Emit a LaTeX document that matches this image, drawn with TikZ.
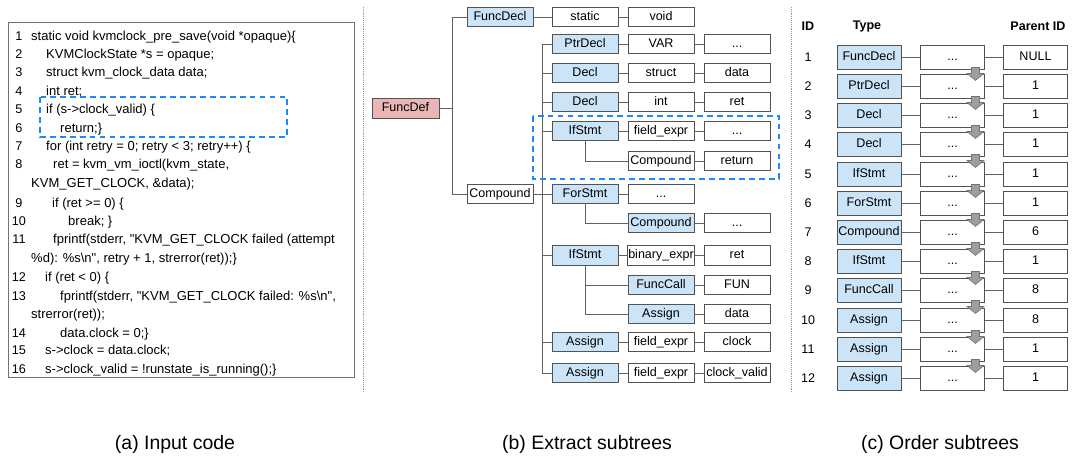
\documentclass[tikz,border=0pt]{standalone}
\usepackage{fontspec}
\setmainfont{Liberation Sans}
\newfontfamily\codefont{Liberation Sans}
\definecolor{astblue}{RGB}{204,228,247}
\definecolor{astpink}{RGB}{233,181,183}
\definecolor{hiliteblue}{RGB}{30,136,255}
\colorlet{edgegrey}{black!68}
\colorlet{linkgrey}{black!62}
\colorlet{arrowgrey}{black!38}
\tikzset{tree/box/.style={draw=edgegrey, line width=0.8pt, minimum width=1.98cm, minimum height=0.58cm, inner sep=1pt, text height=7.6pt, text depth=2.2pt, font=\fontsize{10.7}{12}\selectfont},
  tree/blue/.style={tree/box, fill=astblue},
  tree/white/.style={tree/box, fill=white},
  tree/root/.style={tree/box, fill=astpink, minimum width=2.01cm, minimum height=0.6cm},
  tree/link/.style={linkgrey, line width=0.8pt},
  order/blue/.style={tree/box, fill=astblue, minimum width=1.92cm, minimum height=0.72cm},
  order/white/.style={tree/box, fill=white, minimum width=1.92cm, minimum height=0.72cm},
  order/head/.style={inner sep=0pt, font=\bfseries\fontsize{10.7}{12}\selectfont},
  order/id/.style={inner sep=0pt, font=\fontsize{10.7}{12}\selectfont},
  order/arrow/.style={fill=arrowgrey, draw=black!55, line width=0.5pt},
  src/line/.style={anchor=base west, inner sep=0pt, font=\codefont\fontsize{11.1}{13}\selectfont},
  src/num/.style={anchor=base, inner sep=0pt, font=\codefont\fontsize{10.8}{13}\selectfont},
  hilite/.style={hiliteblue, line width=1.6pt, dash pattern=on 5pt off 3.5pt},
  caption/.style={inner sep=0pt, font=\fontsize{16.6}{19}\selectfont}}
\begin{document}
\begin{tikzpicture}[x=0.03cm, y=-0.03cm]
  \useasboundingbox (0,0) rectangle (1080,458);
\draw[black!55, line width=0.8pt] (8,22) rectangle (354,377);
\draw[black!40, densely dotted, line width=0.6pt] (363,7) -- (363,393);
\draw[black!40, densely dotted, line width=0.6pt] (791,7) -- (791,393);
\node[src/num] (n1) at (19,40.5) {1};
\node[src/num] (n2) at (19,58.5) {2};
\node[src/num] (n3) at (19,76.5) {3};
\node[src/num] (n4) at (19,95.5) {4};
\node[src/num] (n5) at (19,113.5) {5};
\node[src/num] (n6) at (19,132.5) {6};
\node[src/num] (n7) at (19,150.5) {7};
\node[src/num] (n8) at (19,168.5) {8};
\node[src/num] (n9) at (19,207.5) {9};
\node[src/num] (n10) at (19,225.5) {10};
\node[src/num] (n11) at (19,243.5) {11};
\node[src/num] (n12) at (19,281.5) {12};
\node[src/num] (n13) at (19,300.5) {13};
\node[src/num] (n14) at (19,337.5) {14};
\node[src/num] (n15) at (19,354.5) {15};
\node[src/num] (n16) at (19,373.5) {16};
\node[src/line] (c1) at (31,40.5) {static void kvmclock\_pre\_save(void *opaque)\{};
\node[src/line] (c2) at (46,58.5) {KVMClockState *s = opaque;};
\node[src/line] (c3) at (46,76.5) {struct kvm\_clock\_data data;};
\node[src/line] (c4) at (46,95.5) {int ret;};
\node[src/line] (c5) at (46,113.5) {if (s->clock\_valid) \{};
\node[src/line] (c6) at (60,132.5) {return;\}};
\node[src/line] (c7) at (46,150.5) {for (int retry = 0; retry < 3; retry++) \{};
\node[src/line] (c8) at (53,168.5) {ret = kvm\_vm\_ioctl(kvm\_state,};
\node[src/line] (c8b) at (31,187.5) {KVM\_GET\_CLOCK, \&data);};
\node[src/line] (c9) at (52,207.5) {if (ret >= 0) \{};
\node[src/line] (c10) at (68,225.5) {break; \}};
\node[src/line] (c11) at (53,243.5) {fprintf(stderr, "KVM\_GET\_CLOCK failed (attempt};
\node[src/line] (c11b) at (31,262.5) {\%d): \%s\textbackslash n", retry + 1, strerror(ret));\}};
\node[src/line] (c12) at (45,281.5) {if (ret < 0) \{};
\node[src/line] (c13) at (60,300.5) {fprintf(stderr, "KVM\_GET\_CLOCK failed: \%s\textbackslash n",};
\node[src/line] (c13b) at (31,318.5) {strerror(ret));};
\node[src/line] (c14) at (60,337.5) {data.clock = 0;\}};
\node[src/line] (c15) at (45,354.5) {s->clock = data.clock;};
\node[src/line] (c16) at (45,373.5) {s->clock\_valid = !runstate\_is\_running();\}};
\draw[hilite] (40,97) rectangle (287,137);
\node[tree/root] (fdef) at (405.5,108) {FuncDef};
\node[tree/blue] (fdecl) at (500,17) {FuncDecl};
\node[tree/white] (fstatic) at (585,17) {static};
\node[tree/white] (fvoid) at (661,17) {void};
\node[tree/white] (body) at (500,194) {Compound};
\node[tree/blue] (ptr) at (585,44) {PtrDecl};
\node[tree/white] (ptrvar) at (661,44) {VAR};
\node[tree/white] (ptrdots) at (737,44) {...};
\node[tree/blue] (decla) at (585,73) {Decl};
\node[tree/white] (declatype) at (661,73) {struct};
\node[tree/white] (declaname) at (737,73) {data};
\node[tree/blue] (declb) at (585,102) {Decl};
\node[tree/white] (declbtype) at (661,102) {int};
\node[tree/white] (declbname) at (737,102) {ret};
\node[tree/blue] (ifa) at (585,131) {IfStmt};
\node[tree/white] (ifacond) at (661,131) {field\_expr};
\node[tree/white] (ifadots) at (737,131) {...};
\node[tree/white] (ifabody) at (661,161) {Compound};
\node[tree/white] (ifaret) at (737,161) {return};
\node[tree/blue] (forst) at (585,194) {ForStmt};
\node[tree/white] (fordots) at (661,194) {...};
\node[tree/blue] (forbody) at (661,223) {Compound};
\node[tree/white] (forbodydots) at (737,223) {...};
\node[tree/blue] (ifb) at (585,255.5) {IfStmt};
\node[tree/white] (ifbcond) at (661,255.5) {binary\_expr};
\node[tree/white] (ifbret) at (737,255.5) {ret};
\node[tree/blue] (ifbcall) at (661,285) {FuncCall};
\node[tree/white] (ifbfun) at (737,285) {FUN};
\node[tree/blue] (ifbasg) at (661,314) {Assign};
\node[tree/white] (ifbdata) at (737,314) {data};
\node[tree/blue] (asga) at (585,342) {Assign};
\node[tree/white] (asgafield) at (661,342) {field\_expr};
\node[tree/white] (asgaclock) at (737,342) {clock};
\node[tree/blue] (asgb) at (585,373) {Assign};
\node[tree/white] (asgbfield) at (661,373) {field\_expr};
\node[tree/white] (asgbvalid) at (737,373) {clock\_valid};
\coordinate (fdefjoin) at (452,108);
\coordinate (bodyjoin) at (542,194);
\draw[tree/link] (fdef) -- (fdefjoin);
\draw[tree/link] (fdecl.west) -- (fdecl.west -| fdefjoin) -- (body.west -| fdefjoin) -- (body.west);
\draw[tree/link] (body) -- (forst);
\draw[tree/link] (ptr.west -| bodyjoin) -- (asgb.west -| bodyjoin);
\draw[tree/link] (ptr.west -| bodyjoin) -- (ptr.west);
\draw[tree/link] (decla.west -| bodyjoin) -- (decla.west);
\draw[tree/link] (declb.west -| bodyjoin) -- (declb.west);
\draw[tree/link] (ifa.west -| bodyjoin) -- (ifa.west);
\draw[tree/link] (ifb.west -| bodyjoin) -- (ifb.west);
\draw[tree/link] (asga.west -| bodyjoin) -- (asga.west);
\draw[tree/link] (asgb.west -| bodyjoin) -- (asgb.west);
\draw[tree/link] (fdecl) -- (fstatic) -- (fvoid);
\draw[tree/link] (ptr) -- (ptrvar) -- (ptrdots);
\draw[tree/link] (decla) -- (declatype) -- (declaname);
\draw[tree/link] (declb) -- (declbtype) -- (declbname);
\draw[tree/link] (ifa) -- (ifacond) -- (ifadots);
\draw[tree/link] (ifa.south) |- (ifabody.west);
\draw[tree/link] (ifabody) -- (ifaret);
\draw[tree/link] (forst) -- (fordots);
\draw[tree/link] (forst.south) |- (forbody.west);
\draw[tree/link] (forbody) -- (forbodydots);
\draw[tree/link] (ifb) -- (ifbcond) -- (ifbret);
\draw[tree/link] (ifb.south) |- (ifbasg.west);
\draw[tree/link] (ifb.south |- ifbcall.west) -- (ifbcall.west);
\draw[tree/link] (ifbcall) -- (ifbfun);
\draw[tree/link] (ifbasg) -- (ifbdata);
\draw[tree/link] (asga) -- (asgafield) -- (asgaclock);
\draw[tree/link] (asgb) -- (asgbfield) -- (asgbvalid);
\draw[hilite] (533,116) rectangle (779,179);
\node[order/head] (hid) at (808,26) {ID};
\node[order/head] (htype) at (867,26) {Type};
\node[order/head] (hparent) at (1038,26) {Parent ID};
\node[order/id] (i1) at (808,57) {1};
\node[order/blue] (t1) at (869,57) {FuncDecl};
\node[order/white] (m1) at (952.5,57) {...};
\node[order/white] (p1) at (1035.5,57) {NULL};
\node[order/id] (i2) at (808,86) {2};
\node[order/blue] (t2) at (869,86) {PtrDecl};
\node[order/white] (m2) at (952.5,86) {...};
\node[order/white] (p2) at (1035.5,86) {1};
\node[order/id] (i3) at (808,115) {3};
\node[order/blue] (t3) at (869,115) {Decl};
\node[order/white] (m3) at (952.5,115) {...};
\node[order/white] (p3) at (1035.5,115) {1};
\node[order/id] (i4) at (808,144) {4};
\node[order/blue] (t4) at (869,144) {Decl};
\node[order/white] (m4) at (952.5,144) {...};
\node[order/white] (p4) at (1035.5,144) {1};
\node[order/id] (i5) at (808,174) {5};
\node[order/blue] (t5) at (869,174) {IfStmt};
\node[order/white] (m5) at (952.5,174) {...};
\node[order/white] (p5) at (1035.5,174) {1};
\node[order/id] (i6) at (808,203) {6};
\node[order/blue] (t6) at (869,203) {ForStmt};
\node[order/white] (m6) at (952.5,203) {...};
\node[order/white] (p6) at (1035.5,203) {1};
\node[order/id] (i7) at (808,232) {7};
\node[order/blue] (t7) at (869,232) {Compound};
\node[order/white] (m7) at (952.5,232) {...};
\node[order/white] (p7) at (1035.5,232) {6};
\node[order/id] (i8) at (808,261) {8};
\node[order/blue] (t8) at (869,261) {IfStmt};
\node[order/white] (m8) at (952.5,261) {...};
\node[order/white] (p8) at (1035.5,261) {1};
\node[order/id] (i9) at (808,290) {9};
\node[order/blue] (t9) at (869,290) {FuncCall};
\node[order/white] (m9) at (952.5,290) {...};
\node[order/white] (p9) at (1035.5,290) {8};
\node[order/id] (i10) at (808,320) {10};
\node[order/blue] (t10) at (869,320) {Assign};
\node[order/white] (m10) at (952.5,320) {...};
\node[order/white] (p10) at (1035.5,320) {8};
\node[order/id] (i11) at (808,349) {11};
\node[order/blue] (t11) at (869,349) {Assign};
\node[order/white] (m11) at (952.5,349) {...};
\node[order/white] (p11) at (1035.5,349) {1};
\node[order/id] (i12) at (808,378) {12};
\node[order/blue] (t12) at (869,378) {Assign};
\node[order/white] (m12) at (952.5,378) {...};
\node[order/white] (p12) at (1035.5,378) {1};
\draw[tree/link] (t1) -- (m1) -- (p1);
\draw[tree/link] (t2) -- (m2) -- (p2);
\draw[tree/link] (t3) -- (m3) -- (p3);
\draw[tree/link] (t4) -- (m4) -- (p4);
\draw[tree/link] (t5) -- (m5) -- (p5);
\draw[tree/link] (t6) -- (m6) -- (p6);
\draw[tree/link] (t7) -- (m7) -- (p7);
\draw[tree/link] (t8) -- (m8) -- (p8);
\draw[tree/link] (t9) -- (m9) -- (p9);
\draw[tree/link] (t10) -- (m10) -- (p10);
\draw[tree/link] (t11) -- (m11) -- (p11);
\draw[tree/link] (t12) -- (m12) -- (p12);
\draw[order/arrow] ([shift={(-13.5,-2)}]m1.south east) -- ++(8,0) -- ++(0,6) -- ++(4.5,0) -- ++(-8.5,7) -- ++(-8.5,-7) -- ++(4.5,0) -- cycle;
\draw[order/arrow] ([shift={(-13.5,-2)}]m2.south east) -- ++(8,0) -- ++(0,6) -- ++(4.5,0) -- ++(-8.5,7) -- ++(-8.5,-7) -- ++(4.5,0) -- cycle;
\draw[order/arrow] ([shift={(-13.5,-2)}]m3.south east) -- ++(8,0) -- ++(0,6) -- ++(4.5,0) -- ++(-8.5,7) -- ++(-8.5,-7) -- ++(4.5,0) -- cycle;
\draw[order/arrow] ([shift={(-13.5,-2)}]m4.south east) -- ++(8,0) -- ++(0,6) -- ++(4.5,0) -- ++(-8.5,7) -- ++(-8.5,-7) -- ++(4.5,0) -- cycle;
\draw[order/arrow] ([shift={(-13.5,-2)}]m5.south east) -- ++(8,0) -- ++(0,6) -- ++(4.5,0) -- ++(-8.5,7) -- ++(-8.5,-7) -- ++(4.5,0) -- cycle;
\draw[order/arrow] ([shift={(-13.5,-2)}]m6.south east) -- ++(8,0) -- ++(0,6) -- ++(4.5,0) -- ++(-8.5,7) -- ++(-8.5,-7) -- ++(4.5,0) -- cycle;
\draw[order/arrow] ([shift={(-13.5,-2)}]m7.south east) -- ++(8,0) -- ++(0,6) -- ++(4.5,0) -- ++(-8.5,7) -- ++(-8.5,-7) -- ++(4.5,0) -- cycle;
\draw[order/arrow] ([shift={(-13.5,-2)}]m8.south east) -- ++(8,0) -- ++(0,6) -- ++(4.5,0) -- ++(-8.5,7) -- ++(-8.5,-7) -- ++(4.5,0) -- cycle;
\draw[order/arrow] ([shift={(-13.5,-2)}]m9.south east) -- ++(8,0) -- ++(0,6) -- ++(4.5,0) -- ++(-8.5,7) -- ++(-8.5,-7) -- ++(4.5,0) -- cycle;
\draw[order/arrow] ([shift={(-13.5,-2)}]m10.south east) -- ++(8,0) -- ++(0,6) -- ++(4.5,0) -- ++(-8.5,7) -- ++(-8.5,-7) -- ++(4.5,0) -- cycle;
\draw[order/arrow] ([shift={(-13.5,-2)}]m11.south east) -- ++(8,0) -- ++(0,6) -- ++(4.5,0) -- ++(-8.5,7) -- ++(-8.5,-7) -- ++(4.5,0) -- cycle;
\node[caption] (capa) at (175,444) {(a) Input code};
\node[caption] (capb) at (587,444) {(b) Extract subtrees};
\node[caption] (capc) at (940,444) {(c) Order subtrees};

\end{tikzpicture}
\end{document}
